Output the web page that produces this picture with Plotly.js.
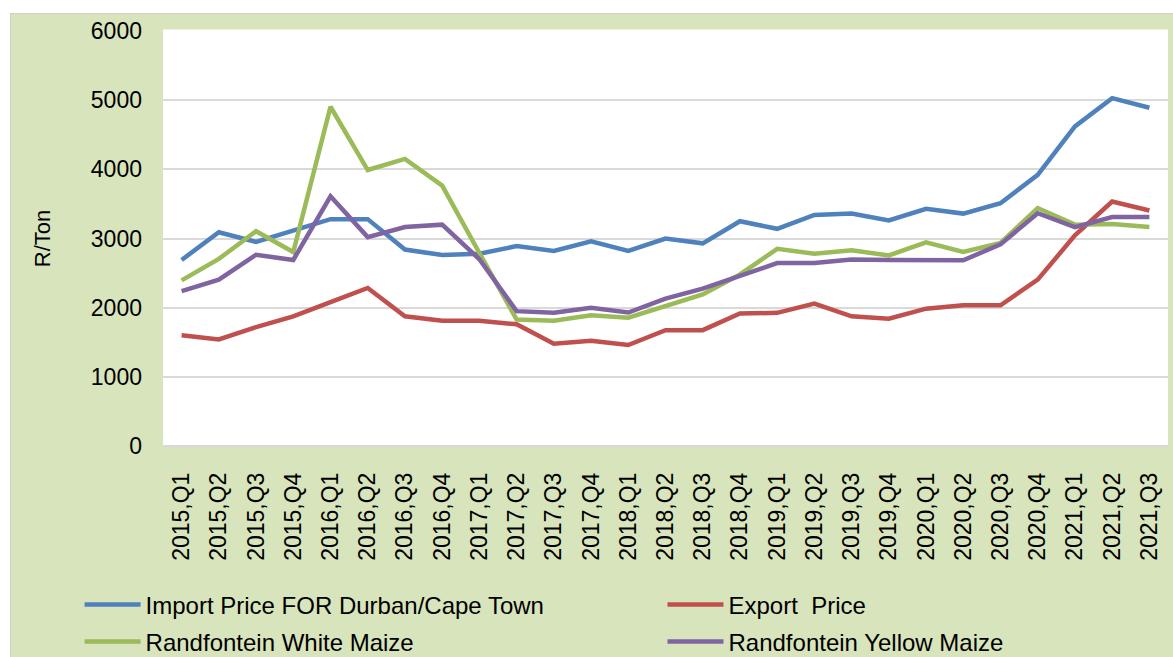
<!DOCTYPE html>
<html>
<head>
<meta charset="utf-8">
<script src="https://cdn.plot.ly/plotly-3.0.1.min.js"></script>
<style>
html,body{margin:0;padding:0;background:#ffffff;width:1173px;height:657px;overflow:hidden;}
#bg{position:absolute;left:10px;top:13px;width:1163px;height:644px;background:#D8E4BC;border-left:1px solid #cfcfcf;border-top:1px solid #cfcfcf;}
#chart{position:absolute;left:0;top:0;width:1173px;height:657px;}
</style>
</head>
<body>
<div id="bg"></div>
<div id="chart"></div>
<script>
const quarters = ["2015,Q1","2015,Q2","2015,Q3","2015,Q4","2016,Q1","2016,Q2","2016,Q3","2016,Q4","2017,Q1","2017,Q2","2017,Q3","2017,Q4","2018,Q1","2018,Q2","2018,Q3","2018,Q4","2019,Q1","2019,Q2","2019,Q3","2019,Q4","2020,Q1","2020,Q2","2020,Q3","2020,Q4","2021,Q1","2021,Q2","2021,Q3"];
const importPrice = [2690,3090,2950,3120,3280,3280,2840,2760,2780,2890,2820,2960,2820,3000,2930,3250,3140,3340,3360,3260,3430,3360,3510,3920,4620,5030,4890];
const exportPrice = [1600,1540,1720,1875,2080,2285,1875,1810,1810,1760,1480,1520,1460,1675,1675,1915,1925,2060,1875,1840,1985,2035,2035,2405,3045,3535,3405];
const whiteMaize = [2395,2705,3105,2805,4905,3990,4150,3765,2790,1830,1810,1890,1855,2020,2190,2480,2850,2780,2830,2755,2945,2805,2935,3440,3200,3210,3165];
const yellowMaize = [2240,2405,2765,2690,3610,3020,3165,3200,2700,1950,1925,2000,1930,2130,2275,2455,2645,2645,2695,2690,2690,2685,2915,3365,3165,3310,3310];
const yTicks = [0,1000,2000,3000,4000,5000,6000];
const seriesNames = ["Import Price FOR Durban/Cape Town","Export\u00a0\u00a0Price","Randfontein White Maize","Randfontein Yellow Maize"];
const seriesColors = ["#4F81BD","#C0504D","#9BBB59","#8064A2"];
const seriesData = [importPrice, exportPrice, whiteMaize, yellowMaize];
const legendIds = ["legend","legend2","legend3","legend4"];

const FONT = "Liberation Sans, Arial, sans-serif";
const traces = seriesData.map((ys, i) => ({
  x: quarters, y: ys, type: "scatter", mode: "lines", name: seriesNames[i],
  legend: legendIds[i],
  line: {color: seriesColors[i], width: 4.5}
}));

// legend box placement (paper coords relative to plot area)
const legCol = [-0.083, 0.497];
const legRow = [-0.3831, -0.4723];
function legendBox(col, row) {
  return {
    orientation: "v", x: legCol[col], xanchor: "left", y: legRow[row], yanchor: "middle",
    bgcolor: "rgba(0,0,0,0)", font: {family: FONT, size: 24, color: "#000000"},
    itemwidth: 56
  };
}

const layout = {
  width: 1173, height: 657,
  paper_bgcolor: "rgba(0,0,0,0)", plot_bgcolor: "#ffffff",
  margin: {l: 163, r: 5, t: 31, b: 211, autoexpand: false},
  font: {family: FONT, size: 22, color: "#000000"},
  showlegend: true,
  xaxis: {
    type: "category", range: [-0.5, quarters.length - 0.5],
    tickangle: -90, showgrid: false, zeroline: false,
    showline: false, ticks: "", tickfont: {family: FONT, size: 23},
    ticklabelstandoff: 21, fixedrange: true, automargin: false
  },
  yaxis: {
    range: [0, 6000], tickvals: yTicks, ticktext: yTicks.map(String),
    showgrid: true, gridcolor: "#D9D9D9", gridwidth: 2,
    zeroline: true, zerolinecolor: "#D9D9D9", zerolinewidth: 2,
    showline: false, ticks: "", ticklabelstandoff: 20,
    tickfont: {family: FONT, size: 23},
    title: {text: "R/Ton", font: {family: FONT, size: 22}, standoff: 34},
    fixedrange: true, automargin: false
  },
  legend: legendBox(0, 0),
  legend2: legendBox(1, 0),
  legend3: legendBox(0, 1),
  legend4: legendBox(1, 1),
  shapes: [
    {type: "line", xref: "paper", yref: "paper", x0: 0, x1: 1, y0: 1, y1: 1,
     line: {color: "#ffffff", width: 3}, layer: "above"}
  ]
};

Plotly.newPlot("chart", traces, layout, {displayModeBar: false, staticPlot: true});
</script>
</body>
</html>
